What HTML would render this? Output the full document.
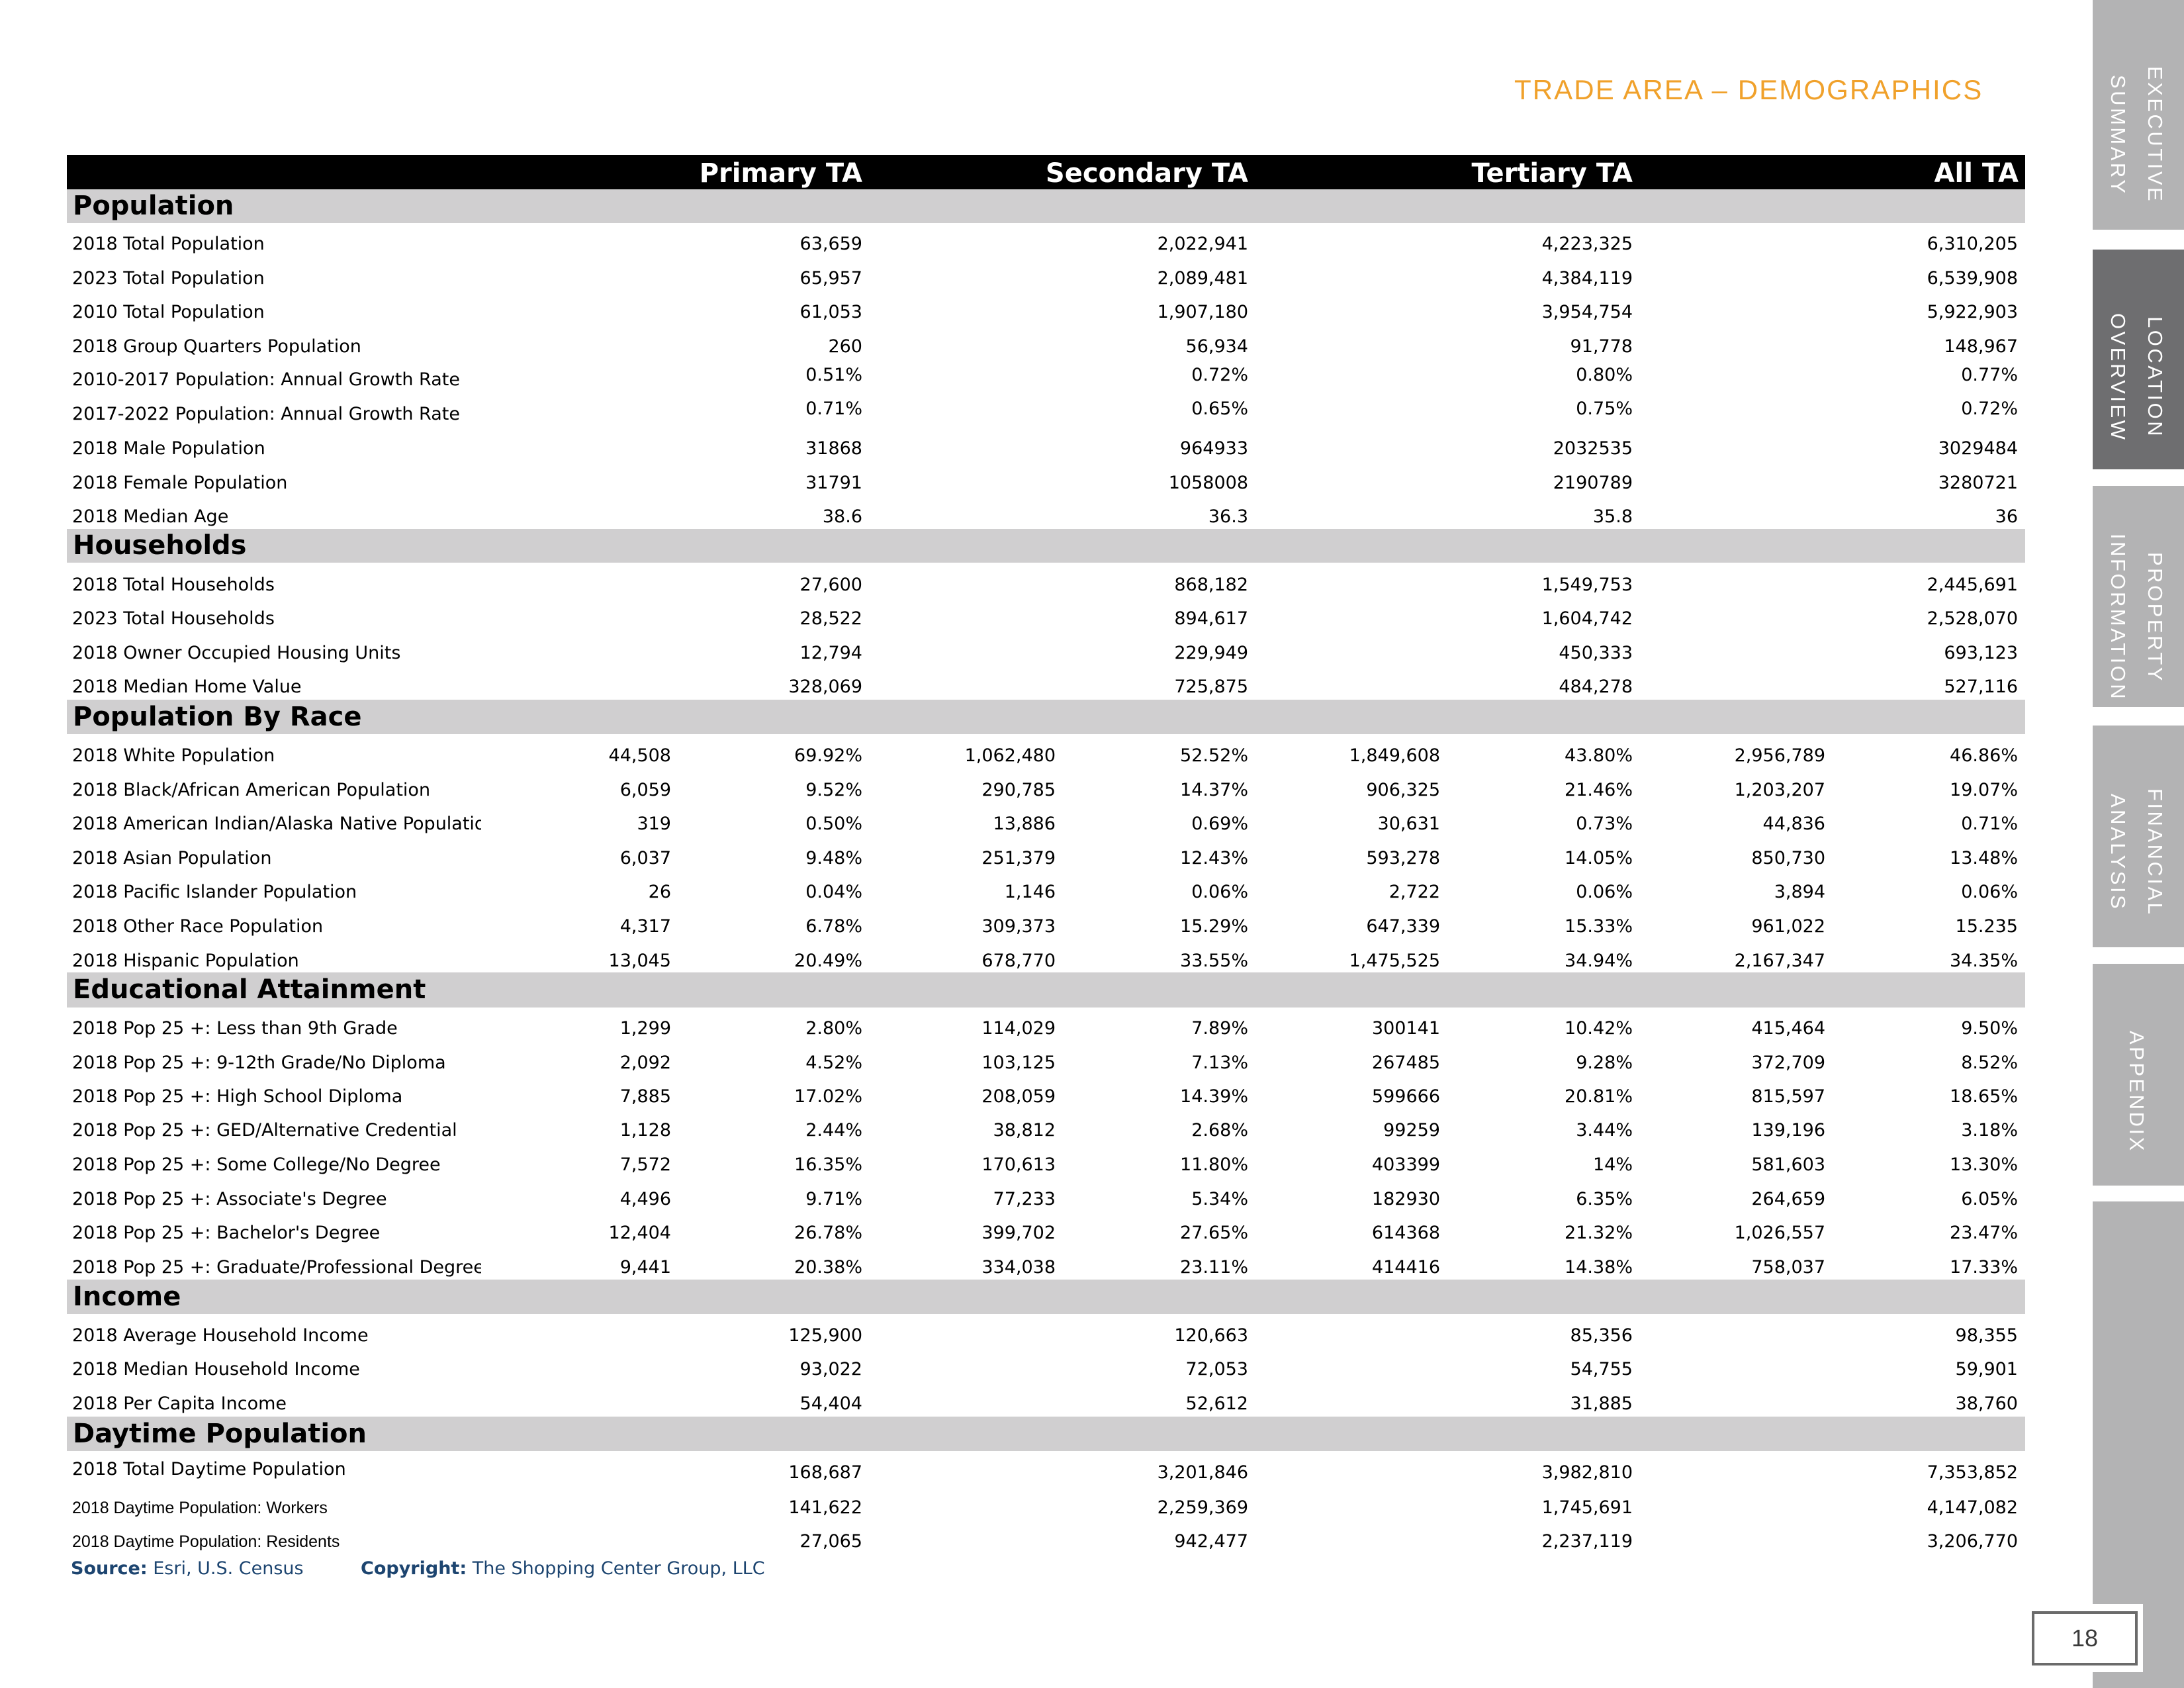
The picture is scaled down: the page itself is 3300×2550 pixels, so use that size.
<!DOCTYPE html>
<html><head><meta charset="utf-8">
<style>
*{margin:0;padding:0}
body{width:3300px;height:2550px;position:relative;background:#fff;overflow:hidden;font-family:"DejaVu Sans",Verdana,sans-serif;color:#000}
.title{position:absolute;left:2288px;top:106px;line-height:60px;font-size:42px;letter-spacing:2.1px;color:#f0a12b;font-family:"Liberation Sans",sans-serif;white-space:nowrap}
.hdr{position:absolute;left:101px;top:234px;width:2959px;height:52px;background:#000;color:#fff;font-weight:bold;font-size:40px;line-height:56px}
.hdr span{position:absolute;top:0;white-space:nowrap}
.b{position:absolute;left:101px;width:2959px;height:52px;background:#d0cfd0;font-weight:bold;font-size:40px;line-height:52px;padding-left:9px;box-sizing:border-box;white-space:nowrap}
.r{position:absolute;left:0;width:3300px;height:50px;line-height:50px;font-size:27px;white-space:nowrap}
.r span{position:absolute;top:0}
.r .l{left:109px;width:618px;overflow:hidden}
.r .s{font-family:"Liberation Sans",sans-serif;font-size:25px}
.u7{margin-top:-7px}
.u8{margin-top:-8px}
.d5{margin-top:5px}
.c1{right:2286px}.c2{right:1997px}.c3{right:1705px}.c4{right:1414px}
.c5{right:1124px}.c6{right:833px}.c7{right:542px}.c8{right:251px}
.tab{position:absolute;left:3162px;width:138px}
.lt{background:#b3b3b4}.dk{background:#6e6e70}
.tt{position:absolute;writing-mode:vertical-rl;text-align:center;color:#fff;font-family:"Liberation Sans",sans-serif;font-size:31px;letter-spacing:3.5px;line-height:56px;height:500px;white-space:nowrap}
.src{position:absolute;top:2345px;height:50px;line-height:50px;font-size:27px;color:#1d4570;white-space:nowrap}
.src b{font-weight:bold}
</style></head><body>

<div class="title">TRADE AREA – DEMOGRAPHICS</div>

<div class="hdr">
<span style="right:1757px">Primary TA</span>
<span style="right:1174px">Secondary TA</span>
<span style="right:593px">Tertiary TA</span>
<span style="right:10px">All TA</span>
</div>

<div class="b" style="top:286px;height:51px;line-height:51px">Population</div>
<div class="r" style="top:344px"><span class="l">2018 Total Population</span><span class="c2">63,659</span><span class="c4">2,022,941</span><span class="c6">4,223,325</span><span class="c8">6,310,205</span></div>
<div class="r" style="top:396px"><span class="l">2023 Total Population</span><span class="c2">65,957</span><span class="c4">2,089,481</span><span class="c6">4,384,119</span><span class="c8">6,539,908</span></div>
<div class="r" style="top:447px"><span class="l">2010 Total Population</span><span class="c2">61,053</span><span class="c4">1,907,180</span><span class="c6">3,954,754</span><span class="c8">5,922,903</span></div>
<div class="r" style="top:499px"><span class="l">2018 Group Quarters Population</span><span class="c2">260</span><span class="c4">56,934</span><span class="c6">91,778</span><span class="c8">148,967</span></div>
<div class="r" style="top:549px"><span class="l">2010-2017 Population: Annual Growth Rate</span><span class="c2 u7">0.51%</span><span class="c4 u7">0.72%</span><span class="c6 u7">0.80%</span><span class="c8 u7">0.77%</span></div>
<div class="r" style="top:601px"><span class="l">2017-2022 Population: Annual Growth Rate</span><span class="c2 u8">0.71%</span><span class="c4 u8">0.65%</span><span class="c6 u8">0.75%</span><span class="c8 u8">0.72%</span></div>
<div class="r" style="top:653px"><span class="l">2018 Male Population</span><span class="c2">31868</span><span class="c4">964933</span><span class="c6">2032535</span><span class="c8">3029484</span></div>
<div class="r" style="top:705px"><span class="l">2018 Female Population</span><span class="c2">31791</span><span class="c4">1058008</span><span class="c6">2190789</span><span class="c8">3280721</span></div>
<div class="r" style="top:756px"><span class="l">2018 Median Age</span><span class="c2">38.6</span><span class="c4">36.3</span><span class="c6">35.8</span><span class="c8">36</span></div>

<div class="b" style="top:799px;height:51px;line-height:51px">Households</div>
<div class="r" style="top:859px"><span class="l">2018 Total Households</span><span class="c2">27,600</span><span class="c4">868,182</span><span class="c6">1,549,753</span><span class="c8">2,445,691</span></div>
<div class="r" style="top:910px"><span class="l">2023 Total Households</span><span class="c2">28,522</span><span class="c4">894,617</span><span class="c6">1,604,742</span><span class="c8">2,528,070</span></div>
<div class="r" style="top:962px"><span class="l">2018 Owner Occupied Housing Units</span><span class="c2">12,794</span><span class="c4">229,949</span><span class="c6">450,333</span><span class="c8">693,123</span></div>
<div class="r" style="top:1013px"><span class="l">2018 Median Home Value</span><span class="c2">328,069</span><span class="c4">725,875</span><span class="c6">484,278</span><span class="c8">527,116</span></div>

<div class="b" style="top:1057px">Population By Race</div>
<div class="r" style="top:1117px"><span class="l">2018 White Population</span><span class="c1">44,508</span><span class="c2">69.92%</span><span class="c3">1,062,480</span><span class="c4">52.52%</span><span class="c5">1,849,608</span><span class="c6">43.80%</span><span class="c7">2,956,789</span><span class="c8">46.86%</span></div>
<div class="r" style="top:1169px"><span class="l">2018 Black/African American Population</span><span class="c1">6,059</span><span class="c2">9.52%</span><span class="c3">290,785</span><span class="c4">14.37%</span><span class="c5">906,325</span><span class="c6">21.46%</span><span class="c7">1,203,207</span><span class="c8">19.07%</span></div>
<div class="r" style="top:1220px"><span class="l">2018 American Indian/Alaska Native Population</span><span class="c1">319</span><span class="c2">0.50%</span><span class="c3">13,886</span><span class="c4">0.69%</span><span class="c5">30,631</span><span class="c6">0.73%</span><span class="c7">44,836</span><span class="c8">0.71%</span></div>
<div class="r" style="top:1272px"><span class="l">2018 Asian Population</span><span class="c1">6,037</span><span class="c2">9.48%</span><span class="c3">251,379</span><span class="c4">12.43%</span><span class="c5">593,278</span><span class="c6">14.05%</span><span class="c7">850,730</span><span class="c8">13.48%</span></div>
<div class="r" style="top:1323px"><span class="l">2018 Pacific Islander Population</span><span class="c1">26</span><span class="c2">0.04%</span><span class="c3">1,146</span><span class="c4">0.06%</span><span class="c5">2,722</span><span class="c6">0.06%</span><span class="c7">3,894</span><span class="c8">0.06%</span></div>
<div class="r" style="top:1375px"><span class="l">2018 Other Race Population</span><span class="c1">4,317</span><span class="c2">6.78%</span><span class="c3">309,373</span><span class="c4">15.29%</span><span class="c5">647,339</span><span class="c6">15.33%</span><span class="c7">961,022</span><span class="c8">15.235</span></div>
<div class="r" style="top:1427px"><span class="l">2018 Hispanic Population</span><span class="c1">13,045</span><span class="c2">20.49%</span><span class="c3">678,770</span><span class="c4">33.55%</span><span class="c5">1,475,525</span><span class="c6">34.94%</span><span class="c7">2,167,347</span><span class="c8">34.35%</span></div>

<div class="b" style="top:1469px;height:53px;line-height:53px">Educational Attainment</div>
<div class="r" style="top:1529px"><span class="l">2018 Pop 25 +: Less than 9th Grade</span><span class="c1">1,299</span><span class="c2">2.80%</span><span class="c3">114,029</span><span class="c4">7.89%</span><span class="c5">300141</span><span class="c6">10.42%</span><span class="c7">415,464</span><span class="c8">9.50%</span></div>
<div class="r" style="top:1581px"><span class="l">2018 Pop 25 +: 9-12th Grade/No Diploma</span><span class="c1">2,092</span><span class="c2">4.52%</span><span class="c3">103,125</span><span class="c4">7.13%</span><span class="c5">267485</span><span class="c6">9.28%</span><span class="c7">372,709</span><span class="c8">8.52%</span></div>
<div class="r" style="top:1632px"><span class="l">2018 Pop 25 +: High School Diploma</span><span class="c1">7,885</span><span class="c2">17.02%</span><span class="c3">208,059</span><span class="c4">14.39%</span><span class="c5">599666</span><span class="c6">20.81%</span><span class="c7">815,597</span><span class="c8">18.65%</span></div>
<div class="r" style="top:1683px"><span class="l">2018 Pop 25 +: GED/Alternative Credential</span><span class="c1">1,128</span><span class="c2">2.44%</span><span class="c3">38,812</span><span class="c4">2.68%</span><span class="c5">99259</span><span class="c6">3.44%</span><span class="c7">139,196</span><span class="c8">3.18%</span></div>
<div class="r" style="top:1735px"><span class="l">2018 Pop 25 +: Some College/No Degree</span><span class="c1">7,572</span><span class="c2">16.35%</span><span class="c3">170,613</span><span class="c4">11.80%</span><span class="c5">403399</span><span class="c6">14%</span><span class="c7">581,603</span><span class="c8">13.30%</span></div>
<div class="r" style="top:1787px"><span class="l">2018 Pop 25 +: Associate's Degree</span><span class="c1">4,496</span><span class="c2">9.71%</span><span class="c3">77,233</span><span class="c4">5.34%</span><span class="c5">182930</span><span class="c6">6.35%</span><span class="c7">264,659</span><span class="c8">6.05%</span></div>
<div class="r" style="top:1838px"><span class="l">2018 Pop 25 +: Bachelor's Degree</span><span class="c1">12,404</span><span class="c2">26.78%</span><span class="c3">399,702</span><span class="c4">27.65%</span><span class="c5">614368</span><span class="c6">21.32%</span><span class="c7">1,026,557</span><span class="c8">23.47%</span></div>
<div class="r" style="top:1890px"><span class="l">2018 Pop 25 +: Graduate/Professional Degree</span><span class="c1">9,441</span><span class="c2">20.38%</span><span class="c3">334,038</span><span class="c4">23.11%</span><span class="c5">414416</span><span class="c6">14.38%</span><span class="c7">758,037</span><span class="c8">17.33%</span></div>

<div class="b" style="top:1933px">Income</div>
<div class="r" style="top:1993px"><span class="l">2018 Average Household Income</span><span class="c2">125,900</span><span class="c4">120,663</span><span class="c6">85,356</span><span class="c8">98,355</span></div>
<div class="r" style="top:2044px"><span class="l">2018 Median Household Income</span><span class="c2">93,022</span><span class="c4">72,053</span><span class="c6">54,755</span><span class="c8">59,901</span></div>
<div class="r" style="top:2096px"><span class="l">2018 Per Capita Income</span><span class="c2">54,404</span><span class="c4">52,612</span><span class="c6">31,885</span><span class="c8">38,760</span></div>

<div class="b" style="top:2140px">Daytime Population</div>
<div class="r" style="top:2195px"><span class="l">2018 Total Daytime Population</span><span class="c2 d5">168,687</span><span class="c4 d5">3,201,846</span><span class="c6 d5">3,982,810</span><span class="c8 d5">7,353,852</span></div>
<div class="r" style="top:2253px"><span class="l s">2018 Daytime Population: Workers</span><span class="c2">141,622</span><span class="c4">2,259,369</span><span class="c6">1,745,691</span><span class="c8">4,147,082</span></div>
<div class="r" style="top:2304px"><span class="l s">2018 Daytime Population: Residents</span><span class="c2">27,065</span><span class="c4">942,477</span><span class="c6">2,237,119</span><span class="c8">3,206,770</span></div>

<div class="src" style="left:107px"><b>Source:</b> Esri, U.S. Census</div>
<div class="src" style="left:545px"><b>Copyright:</b> The Shopping Center Group, LLC</div>

<!-- side tabs -->
<div class="tab lt" style="top:0;height:347px"></div>
<div class="tab dk" style="top:377px;height:332px"></div>
<div class="tab lt" style="top:734px;height:334px"></div>
<div class="tab lt" style="top:1096px;height:335px"></div>
<div class="tab lt" style="top:1456px;height:335px"></div>
<div class="tab lt" style="top:1815px;height:735px"></div>

<div class="tt" style="left:3172px;width:112px;top:-46px">EXECUTIVE<br>SUMMARY</div>
<div class="tt" style="left:3172px;width:112px;top:320px">LOCATION<br>OVERVIEW</div>
<div class="tt" style="left:3172px;width:112px;top:683px">PROPERTY<br>INFORMATION</div>
<div class="tt" style="left:3172px;width:112px;top:1038px">FINANCIAL<br>ANALYSIS</div>
<div class="tt" style="left:3200px;width:56px;top:1399px">APPENDIX</div>

<!-- page number -->
<div style="position:absolute;left:3062px;top:2423px;width:176px;height:103px;background:#fff"></div>
<div style="position:absolute;left:3070px;top:2434px;width:160px;height:82px;box-sizing:border-box;border:4px solid #6b6b6b;background:#fff;text-align:center;line-height:74px;font-family:'Liberation Sans',sans-serif;font-size:36px;color:#3a3a3a">18</div>

</body></html>
